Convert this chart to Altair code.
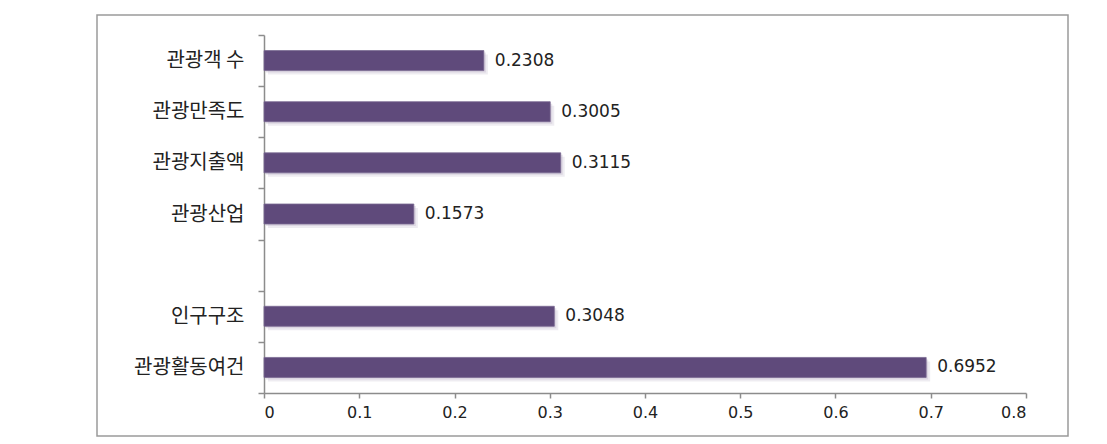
import altair as alt
import pandas as pd

categories = ["관광객 수", "관광만족도", "관광지출액", "관광산업", " ", "인구구조", "관광활동여건"]
bar_categories = ["관광객 수", "관광만족도", "관광지출액", "관광산업", "인구구조", "관광활동여건"]
values = [0.2308, 0.3005, 0.3115, 0.1573, 0.3048, 0.6952]
x_ticks = [0, 0.1, 0.2, 0.3, 0.4, 0.5, 0.6, 0.7, 0.8]

df = pd.DataFrame({"cat": bar_categories, "val": values})
df["label"] = [f"{v:.4f}" for v in values]

W, H = 762, 358
BAR = "#5F4A7B"

x_scale = alt.Scale(domain=[0, 0.8], nice=False)
y_scale = alt.Scale(domain=categories, paddingInner=0, paddingOuter=0)

base = alt.Chart(df)

frame = alt.Chart(pd.DataFrame({"a": [0]})).mark_rect(
    fill=None, stroke="#9a9a9a", strokeWidth=1.5
).encode(
    x=alt.value(-167), x2=alt.value(804), y=alt.value(-20), y2=alt.value(401)
)

shadow1 = base.mark_bar(color="#cfc8d8", opacity=0.35, height=20, yOffset=4, xOffset=4).encode(
    x=alt.X("val:Q", scale=x_scale),
    y=alt.Y("cat:N", scale=y_scale),
)
shadow2 = base.mark_bar(color="#b9b0c6", opacity=0.35, height=20, yOffset=2, xOffset=2).encode(
    x=alt.X("val:Q", scale=x_scale),
    y=alt.Y("cat:N", scale=y_scale),
)

bars = base.mark_bar(color=BAR, stroke="#7a6a92", strokeWidth=0.8, height=20).encode(
    x=alt.X("val:Q", scale=x_scale,
            axis=alt.Axis(values=x_ticks, format="~g", title=None, grid=False,
                          domainColor="#8c8c8c", tickColor="#8c8c8c", tickSize=5,
                          labelFont="DejaVu Sans", labelFontSize=16, labelColor="#222",
                          labelPadding=6, domainWidth=1.5, tickWidth=1.5)),
    y=alt.Y("cat:N", scale=y_scale,
            axis=alt.Axis(title=None, tickBand="extent", domainColor="#8c8c8c",
                          tickColor="#8c8c8c", tickSize=6, domainWidth=1.5, tickWidth=1.5,
                          labelFont="Noto Sans CJK KR", labelFontSize=20,
                          labelColor="#222", labelPadding=14)),
)

labels = base.mark_text(align="left", baseline="middle", dx=11,
                        font="DejaVu Sans", fontSize=17, color="#222").encode(
    x=alt.X("val:Q", scale=x_scale),
    y=alt.Y("cat:N", scale=y_scale),
    text="label:N",
)

chart = alt.layer(frame, shadow1, shadow2, bars, labels).properties(
    width=W, height=H,
    autosize=alt.AutoSizeParams(type="none"),
    padding={"left": 256, "top": 27, "right": 60, "bottom": 50},
).configure_view(stroke=None)

chart.save("out.html", embed_options={"renderer": "svg", "actions": False})
